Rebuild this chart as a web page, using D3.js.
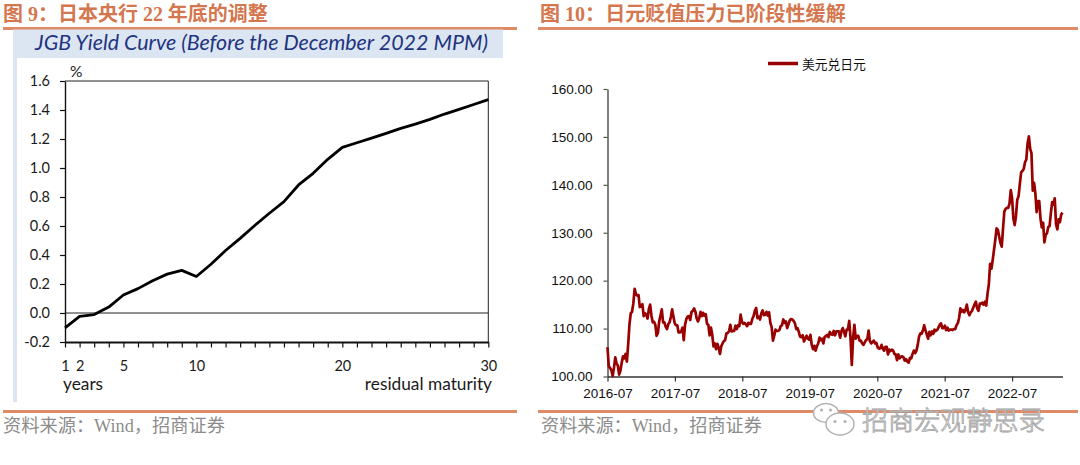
<!DOCTYPE html>
<html><head><meta charset="utf-8">
<script src="https://cdn.jsdelivr.net/npm/d3@7"></script>
<style>
html,body{margin:0;padding:0;background:#fff;}
svg{display:block;}
</style></head>
<body>
<svg id="c" width="1080" height="465"></svg>
<script>
// ---------------- data: left chart (JGB yield curve) ----------------
const maturities = [1,2,3,4,5,6,7,8,9,10,11,12,13,14,15,16,17,18,19,20,21,22,23,24,25,26,27,28,29,30];
const yields = [-0.103,-0.023,-0.011,0.041,0.124,0.168,0.223,0.268,0.294,0.252,0.336,0.431,0.515,0.603,0.688,0.768,0.883,0.963,1.06,1.142,1.174,1.206,1.239,1.273,1.303,1.335,1.372,1.404,1.438,1.472];
const jgbYTicks = [-0.2,0,0.2,0.4,0.6,0.8,1.0,1.2,1.4,1.6];
const jgbYTickLabels = ["-0.2","0.0","0.2","0.4","0.6","0.8","1.0","1.2","1.4","1.6"];
const jgbXTickLabels = [1,2,5,10,20,30];

// ---------------- data: right chart (USD/JPY, weekly, from 2016-07-22) ----------------
const usdjpy2016 = [106.1,102.1,101.8,101.3,100.1,101.8,104.0,102.7,102.3,100.4,101.2,102.9,104.2,103.8,104.7,103.1,106.7,110.9,113.2,113.5,115.3,118.3,117.2,116.9];
const usdjpy2017 = [117.0,114.5,114.6,115.1,112.6,113.2,112.9,112.1,114.1,115.0,112.7,111.3,111.4,110.8,108.5,109.1,111.5,112.7,114.0,111.3,111.3,110.4,109.9,110.9,111.3,112.4,114.0,112.5,111.1,110.7,110.7,109.2,109.2,109.4,110.2,107.6,110.8,112.0,112.5,112.6,111.8,113.5,113.7,114.2,113.5,112.1,111.5,112.2,113.5,112.6,113.3,112.7];
const usdjpy2018 = [113.0,111.0,110.8,108.6,110.2,108.8,106.3,106.9,105.7,106.8,106.0,104.7,106.3,106.9,107.4,107.6,109.0,109.1,109.4,110.8,109.4,109.5,109.5,110.6,109.9,110.7,110.5,112.9,111.4,111.0,111.2,110.9,110.5,111.2,111.0,111.0,112.0,112.6,113.7,114.3,112.2,112.5,111.9,113.2,113.8,112.8,112.9,113.5,112.7,113.4,111.2,110.3];
const usdjpy2019 = [107.5,108.5,109.8,109.5,109.5,109.7,110.5,110.7,111.9,111.2,111.5,110.1,110.9,111.7,112.0,111.9,111.6,111.1,109.9,110.1,109.3,108.3,108.2,108.6,107.3,107.9,108.5,107.9,107.7,108.7,106.6,105.7,106.4,105.4,106.3,106.9,108.1,107.6,107.9,106.9,108.3,108.4,108.7,108.2,109.3,108.8,108.7,109.5,108.6,109.4,109.4,109.4];
const usdjpy2020 = [108.1,109.5,110.1,109.3,108.4,109.8,109.8,111.6,108.1,102.4,108.0,110.8,107.9,108.5,108.5,107.5,107.5,106.9,106.6,107.1,107.6,107.8,109.6,107.4,106.9,107.2,107.5,106.9,107.0,106.1,105.8,105.9,106.6,105.8,105.4,106.2,106.2,104.6,105.6,105.3,105.6,105.4,104.7,104.6,103.4,104.6,103.8,104.1,104.2,104.0,103.3,103.6];
const usdjpy2021 = [103.1,102.9,103.9,103.8,104.7,105.4,104.9,105.4,106.6,108.3,109.0,108.9,109.6,110.7,109.7,108.8,107.9,109.3,108.6,109.4,108.9,109.8,109.5,109.7,110.2,110.8,111.1,110.1,110.1,110.6,109.7,110.2,109.6,109.8,109.8,109.7,109.9,109.9,110.7,111.1,112.2,114.2,113.5,113.9,113.4,113.9,115.0,113.4,112.8,113.4,113.7,114.4,115.1];
const usdjpy2022 = [115.6,114.2,113.7,115.2,115.2,115.4,115.0,115.6,114.8,117.3,119.2,123.5,122.5,124.3,126.4,128.5,130.9,130.6,129.2,127.9,127.1,130.9,134.4,135.0,135.2,135.2,136.1,138.9,137.2,133.0,131.6,133.5,136.9,137.6,140.2,142.6,142.9,143.3,144.7,145.3,148.7,150.1,147.5,146.6,138.8,140.4,138.2,134.3,136.6,136.6,132.9,131.1];
const usdjpy2023 = [132.1,128.0,129.6,129.9,131.2,131.4,134.1,136.4,135.9,137.2,131.8,130.7,132.8,132.2,133.8,134.2];
const fxYTicks = [100,110,120,130,140,150,160];
const fxYTickLabels = ["100.00","110.00","120.00","130.00","140.00","150.00","160.00"];
const fxXTickLabels = ["2016-07","2017-07","2018-07","2019-07","2020-07","2021-07","2022-07"];
const fxSeriesName = "美元兑日元";

const leftTitle = "图 9：日本央行 22 年底的调整";
const rightTitle = "图 10：日元贬值压力已阶段性缓解";
const jgbTitle = "JGB Yield Curve (Before the December 2022 MPM)";
const sourceText = "资料来源：Wind，招商证券";
const watermarkText = "招商宏观静思录";

// ---------------- drawing ----------------
const svg = d3.select("#c");
const ORANGE_TXT = "#D4764E", ORANGE_LINE = "#E08A67";
const CJK_TITLE = "'Liberation Serif','Noto Sans CJK SC',serif";
const CJK_SRC = "'Liberation Serif','Noto Sans CJK SC',serif";

function fit(sel, target){
  const w = sel.node().getComputedTextLength();
  const fs = parseFloat(sel.attr("font-size"));
  if (w > 0) sel.attr("font-size", fs * target / w);
  return sel;
}

// headers
fit(svg.append("text").attr("x",3).attr("y",21).attr("font-family",CJK_TITLE).attr("font-weight","bold")
  .attr("font-size",19).attr("fill",ORANGE_TXT).text(leftTitle), 265);
fit(svg.append("text").attr("x",540).attr("y",21).attr("font-family",CJK_TITLE).attr("font-weight","bold")
  .attr("font-size",19).attr("fill",ORANGE_TXT).text(rightTitle), 306);
svg.append("line").attr("x1",3).attr("x2",517).attr("y1",28.5).attr("y2",28.5).attr("stroke",ORANGE_LINE).attr("stroke-width",3);
svg.append("line").attr("x1",538).attr("x2",1078).attr("y1",28.5).attr("y2",28.5).attr("stroke",ORANGE_LINE).attr("stroke-width",3);

// footers
svg.append("line").attr("x1",3).attr("x2",517).attr("y1",411.5).attr("y2",411.5).attr("stroke",ORANGE_LINE).attr("stroke-width",2.8);
svg.append("line").attr("x1",538).attr("x2",1078).attr("y1",411.5).attr("y2",411.5).attr("stroke",ORANGE_LINE).attr("stroke-width",2.8);
fit(svg.append("text").attr("x",3).attr("y",432).attr("font-family",CJK_SRC).attr("font-size",16)
  .attr("fill","#8c8c8c").text(sourceText), 222);
fit(svg.append("text").attr("x",541).attr("y",432).attr("font-family",CJK_SRC).attr("font-size",16)
  .attr("fill","#8c8c8c").text(sourceText), 221);

// ---------- left chart ----------
svg.append("rect").attr("x",13).attr("y",29.5).attr("width",490).attr("height",28.5).attr("fill","#DCE6F2");
svg.append("rect").attr("x",13).attr("y",58).attr("width",4).attr("height",344).attr("fill","#DCE6F2");
fit(svg.append("text").attr("x",261.5).attr("y",50).attr("text-anchor","middle").attr("font-family","Lato, 'Open Sans', sans-serif")
  .attr("font-style","italic").attr("font-size",20).attr("fill","#1F3480").text(jgbTitle), 453);

const xJ = d3.scaleLinear().domain([1,30]).range([65,488.3]);
const yJ = d3.scaleLinear().domain([-0.2,1.6]).range([342,81]);

// frame top / right, zero line
svg.append("line").attr("x1",xJ(1)).attr("x2",xJ(30)).attr("y1",yJ(1.6)).attr("y2",yJ(1.6)).attr("stroke","#222").attr("stroke-width",1);
svg.append("line").attr("x1",xJ(30)).attr("x2",xJ(30)).attr("y1",yJ(1.6)).attr("y2",yJ(-0.2)).attr("stroke","#222").attr("stroke-width",1);
svg.append("line").attr("x1",xJ(1)).attr("x2",xJ(30)).attr("y1",yJ(0)).attr("y2",yJ(0)).attr("stroke","#222").attr("stroke-width",1);

const gyJ = svg.append("g").attr("transform",`translate(${xJ(1)},0)`)
  .call(d3.axisLeft(yJ).tickValues(jgbYTicks).tickSize(5).tickSizeOuter(0).tickPadding(10)
    .tickFormat((d,i)=>jgbYTickLabels[i]));
gyJ.select(".domain").attr("stroke","#111").attr("stroke-width",1.4);
gyJ.selectAll(".tick line").attr("stroke","#111").attr("stroke-width",1.2);
gyJ.selectAll(".tick text").attr("font-family","Lato, sans-serif").attr("font-size",14.5).attr("fill","#1a1a1a");

const gxJ = svg.append("g").attr("transform",`translate(0,${yJ(-0.2)})`)
  .call(d3.axisBottom(xJ).tickValues(maturities).tickSize(5.5).tickSizeOuter(0)
    .tickFormat(d => jgbXTickLabels.includes(d) ? String(d) : ""));
gxJ.select(".domain").attr("stroke","#111").attr("stroke-width",1.8);
gxJ.selectAll(".tick line").attr("stroke","#111").attr("stroke-width",1.2);
gxJ.selectAll(".tick text").attr("y",28.5).attr("dy",null).attr("font-family","Lato, sans-serif").attr("font-size",14.5).attr("fill","#1a1a1a");

svg.append("text").attr("x",70).attr("y",76.5).attr("font-family","Lato, sans-serif").attr("font-size",15.5).attr("fill","#1a1a1a").text("%");
svg.append("text").attr("x",63).attr("y",390).attr("font-family","Lato, sans-serif").attr("font-size",17.3).attr("fill","#1a1a1a").text("years");
svg.append("text").attr("x",492).attr("y",390).attr("text-anchor","end").attr("font-family","Lato, sans-serif").attr("font-size",17.3).attr("fill","#1a1a1a").text("residual maturity");

svg.append("path").datum(maturities.map((m,i)=>[m,yields[i]]))
  .attr("d", d3.line().x(d=>xJ(d[0])).y(d=>yJ(d[1])))
  .attr("fill","none").attr("stroke","#000").attr("stroke-width",2.8).attr("stroke-linejoin","round");

// ---------- right chart ----------
const fxStart = new Date(2016,6,22);
const fxEnd = new Date(2023,3,21);
const fxValues = [].concat(usdjpy2016,usdjpy2017,usdjpy2018,usdjpy2019,usdjpy2020,usdjpy2021,usdjpy2022,usdjpy2023);
const fxDates = d3.timeFriday.range(fxStart, d3.timeDay.offset(fxEnd,1));
const fxData = fxDates.map((d,i)=>[d, fxValues[i]]).filter(d => d[1] != null);

const xF = d3.scaleTime().domain([fxStart, fxEnd]).range([607.5,1062.5]);
const yF = d3.scaleLinear().domain([100,160]).range([376.5,89]);

const gyF = svg.append("g").attr("transform",`translate(${xF.range()[0]},0)`)
  .call(d3.axisLeft(yF).tickValues(fxYTicks).tickSize(4).tickSizeOuter(0).tickPadding(11)
    .tickFormat((d,i)=>fxYTickLabels[i]));
gyF.select(".domain").attr("stroke","#555").attr("stroke-width",1.5);
gyF.selectAll(".tick line").attr("stroke","#555").attr("stroke-width",1.2);
gyF.selectAll(".tick text").attr("font-family","'Liberation Sans', Arial, sans-serif").attr("font-size",13.5).attr("fill","#111");

const fxTickDates = fxXTickLabels.map((l,i)=>d3.timeYear.offset(fxStart,i));
const gxF = svg.append("g").attr("transform",`translate(0,${yF(100)})`)
  .call(d3.axisBottom(xF).tickValues(fxTickDates).tickSize(5).tickSizeOuter(0)
    .tickFormat((d,i)=>fxXTickLabels[i]));
gxF.select(".domain").attr("stroke","#333").attr("stroke-width",1.6);
gxF.selectAll(".tick line").attr("stroke","#333").attr("stroke-width",1.2);
gxF.selectAll(".tick text").attr("y",21).attr("dy",null).attr("font-family","'Liberation Sans', Arial, sans-serif").attr("font-size",13.5).attr("fill","#111");

svg.append("path").datum(fxData)
  .attr("d", d3.line().x(d=>xF(d[0])).y(d=>yF(d[1])))
  .attr("fill","none").attr("stroke","#990000").attr("stroke-width",2.7).attr("stroke-linejoin","round");

// legend
svg.append("line").attr("x1",768).attr("x2",798).attr("y1",63.5).attr("y2",63.5).attr("stroke","#990000").attr("stroke-width",3.5);
fit(svg.append("text").attr("x",802).attr("y",63.5).attr("dominant-baseline","central").attr("font-family","'Noto Sans CJK SC', sans-serif")
  .attr("font-size",12.5).attr("fill","#111").text(fxSeriesName), 64);

// watermark
const wm = svg.append("g");
wm.append("ellipse").attr("cx",826).attr("cy",413).attr("rx",12.5).attr("ry",9.5).attr("fill","#fff").attr("stroke","#b3b3b3").attr("stroke-width",1.5);
wm.append("ellipse").attr("cx",840).attr("cy",424).attr("rx",14).attr("ry",11).attr("fill","#fff").attr("stroke","#b3b3b3").attr("stroke-width",1.5);
[[821.5,410],[830.5,410],[835,421.5],[845,421.5]].forEach(p=>wm.append("circle").attr("cx",p[0]).attr("cy",p[1]).attr("r",1.6).attr("fill","#b3b3b3"));
fit(wm.append("text").attr("x",862).attr("y",430).attr("font-family","'Noto Sans CJK SC', sans-serif").attr("font-weight",300)
  .attr("font-size",26).attr("fill","#f7f7f7").attr("stroke","#a3a3a3").attr("stroke-width",0.8).text(watermarkText), 183);
</script>
</body></html>
